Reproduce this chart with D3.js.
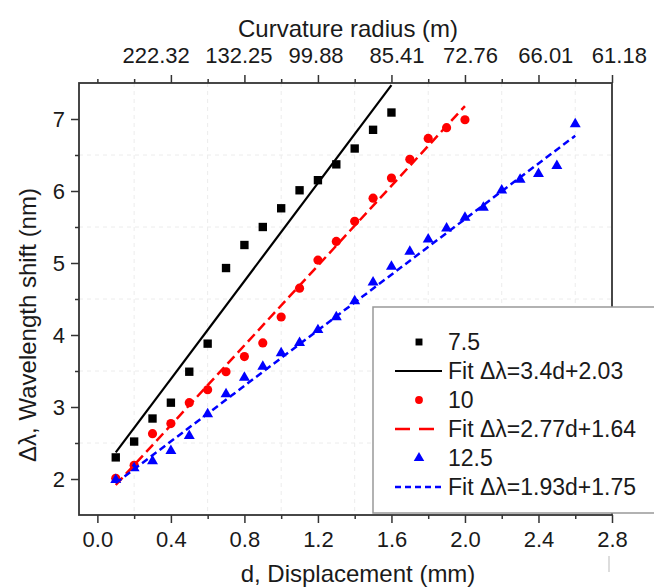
<!DOCTYPE html>
<html>
<head>
<meta charset="utf-8">
<script src="https://cdn.jsdelivr.net/npm/d3@7"></script>
<style>
  body { margin: 0; background: #fff; }
  text { font-family: "Liberation Sans", Arial, sans-serif; fill: #1a1a1a; }
</style>
</head>
<body>
<div id="chart"></div>
<script>
// data
var dBlack = [0.1, 0.2, 0.3, 0.4, 0.5, 0.6, 0.7, 0.8, 0.9, 1.0, 1.1, 1.2, 1.3, 1.4, 1.5, 1.6];
var shiftBlack = [2.30, 2.52, 2.84, 3.06, 3.49, 3.88, 4.93, 5.25, 5.50, 5.76, 6.01, 6.15, 6.37, 6.59, 6.85, 7.09];

var dRed = [0.1, 0.2, 0.3, 0.4, 0.5, 0.6, 0.7, 0.8, 0.9, 1.0, 1.1, 1.2, 1.3, 1.4, 1.5, 1.6, 1.7, 1.8, 1.9, 2.0];
var shiftRed = [2.01, 2.19, 2.63, 2.77, 3.06, 3.24, 3.49, 3.70, 3.89, 4.25, 4.65, 5.04, 5.30, 5.58, 5.90, 6.18, 6.44, 6.73, 6.88, 6.99];

var dBlue = [0.1, 0.2, 0.3, 0.4, 0.5, 0.6, 0.7, 0.8, 0.9, 1.0, 1.1, 1.2, 1.3, 1.4, 1.5, 1.6, 1.7, 1.8, 1.9, 2.0, 2.1, 2.2, 2.3, 2.4, 2.5, 2.6];
var shiftBlue = [1.99, 2.15, 2.25, 2.39, 2.60, 2.90, 3.18, 3.41, 3.56, 3.75, 3.89, 4.07, 4.25, 4.47, 4.73, 4.95, 5.16, 5.33, 5.48, 5.63, 5.77, 6.01, 6.16, 6.24, 6.35, 6.93];

// linear fits given in the legend
var seriesNames = ["7.5", "10", "12.5"];
var fitSlopes = [3.4, 2.77, 1.93];
var fitIntercepts = [2.03, 1.64, 1.75];
var fitLabels = ["Fit \u0394\u03bb=3.4d+2.03", "Fit \u0394\u03bb=2.77d+1.64", "Fit \u0394\u03bb=1.93d+1.75"];

// axis ticks
var xTicks = [0.0, 0.4, 0.8, 1.2, 1.6, 2.0, 2.4, 2.8];
var yTicks = [2, 3, 4, 5, 6, 7];
var topTicks = [0.4, 0.8, 1.2, 1.6, 2.0, 2.4, 2.8];
// top labels sit a little off their ticks in the original
var topLabelPos = [0.32, 0.77, 1.19, 1.63, 2.03, 2.44, 2.84];
var topLabels = ["222.32", "132.25", "99.88", "85.41", "72.76", "66.01", "61.18"];

var svgWidth = 654;
var svgHeight = 588;

var margin = { top: 83, right: 42, bottom: 73, left: 79 };
var width = svgWidth - margin.left - margin.right;
var height = svgHeight - margin.top - margin.bottom;

var svg = d3.select("#chart")
  .append("svg")
  .attr("width", svgWidth)
  .attr("height", svgHeight);

var chartGroup = svg.append("g")
  .attr("transform", `translate(${margin.left}, ${margin.top})`);

var xScale = d3.scaleLinear().domain([-0.1, 2.8]).range([0, width]);
var yScale = d3.scaleLinear().domain([1.5, 7.5]).range([height, 0]);

// faint dashed grid at the minor positions
var xGrid = d3.range(0.2, 2.7, 0.4);
var yGrid = d3.range(2.5, 7.0, 1);

chartGroup.selectAll(".xgrid")
  .data(xGrid)
  .enter()
  .append("line")
  .attr("x1", d => xScale(d))
  .attr("x2", d => xScale(d))
  .attr("y1", 0)
  .attr("y2", height)
  .attr("stroke", "#ececec")
  .attr("stroke-width", 1)
  .attr("stroke-dasharray", "4,4");

chartGroup.selectAll(".ygrid")
  .data(yGrid)
  .enter()
  .append("line")
  .attr("x1", 0)
  .attr("x2", width)
  .attr("y1", d => yScale(d))
  .attr("y2", d => yScale(d))
  .attr("stroke", "#ececec")
  .attr("stroke-width", 1)
  .attr("stroke-dasharray", "4,4");

// axes
var bottomAxis = d3.axisBottom(xScale)
  .tickValues(xTicks)
  .tickSize(8)
  .tickPadding(8)
  .tickFormat(d3.format(".1f"));

var bottomMinor = d3.axisBottom(xScale)
  .tickValues(d3.range(0.2, 2.7, 0.4))
  .tickSize(4)
  .tickFormat("");

var topAxis = d3.axisTop(xScale)
  .tickValues(topTicks)
  .tickSize(8)
  .tickFormat("");

var topMinor = d3.axisTop(xScale)
  .tickValues([0.0].concat(d3.range(0.2, 2.7, 0.4)))
  .tickSize(4)
  .tickFormat("");

var leftAxis = d3.axisLeft(yScale)
  .tickValues(yTicks)
  .tickSize(8)
  .tickPadding(6)
  .tickFormat(d3.format("d"));

var leftMinor = d3.axisLeft(yScale)
  .tickValues(d3.range(2.5, 7.0, 1))
  .tickSize(4)
  .tickFormat("");

function styleAxis(g) {
  g.select(".domain").remove();
  g.selectAll("line").attr("stroke", "#333").attr("stroke-width", 1.5);
  g.selectAll("text").attr("font-size", "22px").attr("fill", "#1a1a1a")
    .attr("font-family", "Liberation Sans, Arial, sans-serif");
}

chartGroup.append("g").attr("transform", `translate(0, ${height})`).call(bottomAxis).call(styleAxis);
chartGroup.append("g").attr("transform", `translate(0, ${height})`).call(bottomMinor).call(styleAxis);
chartGroup.append("g").call(topAxis).call(styleAxis);
chartGroup.append("g").call(topMinor).call(styleAxis);
chartGroup.append("g").call(leftAxis).call(styleAxis);
chartGroup.append("g").call(leftMinor).call(styleAxis);

// top (curvature radius) labels
chartGroup.selectAll(".toplabel")
  .data(topLabels)
  .enter()
  .append("text")
  .attr("x", (d, i) => xScale(topLabelPos[i]))
  .attr("y", -20)
  .attr("text-anchor", "middle")
  .attr("font-size", "22px")
  .text(d => d);

// frame
chartGroup.append("rect")
  .attr("x", 0)
  .attr("y", 0)
  .attr("width", width)
  .attr("height", height)
  .attr("fill", "none")
  .attr("stroke", "#333")
  .attr("stroke-width", 1.8);

// fit lines
var fitColors = ["#000", "#ff0000", "#0000ff"];
var fitDash = [null, "10,5", "7,4"];
var fitWidths = [2.2, 2.5, 2.5];
var fitRanges = [[0.1, 1.6], [0.1, 2.0], [0.1, 2.6]];

var line = d3.line()
  .x(d => xScale(d[0]))
  .y(d => yScale(d[1]));

// markers
var symbols = [d3.symbolSquare, d3.symbolCircle, d3.symbolTriangle];
var symbolSizes = [70, 66, 52];
var allD = [dBlack, dRed, dBlue];
var allShift = [shiftBlack, shiftRed, shiftBlue];

allD.forEach(function(dVals, i) {
  chartGroup.selectAll(".pt" + i)
    .data(dVals)
    .enter()
    .append("path")
    .attr("d", d3.symbol().type(symbols[i]).size(symbolSizes[i]))
    .attr("transform", (d, j) => `translate(${xScale(d)}, ${yScale(allShift[i][j])})`)
    .attr("fill", fitColors[i]);
});

fitSlopes.forEach(function(m, i) {
  var pts = fitRanges[i].map(d => [d, m * d + fitIntercepts[i]]);
  chartGroup.append("path")
    .datum(pts)
    .attr("d", line)
    .attr("fill", "none")
    .attr("stroke", fitColors[i])
    .attr("stroke-width", fitWidths[i])
    .attr("stroke-dasharray", fitDash[i]);
});

// axis titles
svg.append("text")
  .attr("x", 348)
  .attr("y", 37)
  .attr("text-anchor", "middle")
  .attr("font-size", "24px")
  .text("Curvature radius (m)");

svg.append("text")
  .attr("x", 358)
  .attr("y", 582)
  .attr("text-anchor", "middle")
  .attr("font-size", "24px")
  .text("d, Displacement (mm)");

svg.append("text")
  .attr("transform", "translate(36, 325) rotate(-90)")
  .attr("text-anchor", "middle")
  .attr("font-size", "24px")
  .text("\u0394\u03bb, Wavelength shift (nm)");

// legend
var legend = svg.append("g").attr("transform", "translate(373, 307)");

legend.append("rect")
  .attr("x", 0)
  .attr("y", 0)
  .attr("width", 300)
  .attr("height", 206)
  .attr("fill", "#fff")
  .attr("stroke", "#999")
  .attr("stroke-width", 1.5);

var rowGap = 29;
seriesNames.forEach(function(name, i) {
  var yMark = 35 + i * 2 * rowGap;
  var yFit = yMark + rowGap;

  legend.append("path")
    .attr("d", d3.symbol().type(symbols[i]).size(48))
    .attr("transform", `translate(46, ${yMark})`)
    .attr("fill", fitColors[i]);

  legend.append("text")
    .attr("x", 75)
    .attr("y", yMark + 8)
    .attr("font-size", "23px")
    .text(name);

  legend.append("line")
    .attr("x1", 22)
    .attr("x2", 69)
    .attr("y1", yFit)
    .attr("y2", yFit)
    .attr("stroke", fitColors[i])
    .attr("stroke-width", fitWidths[i])
    .attr("stroke-dasharray", i === 1 ? "15,9" : (i === 2 ? "6,4" : null));

  legend.append("text")
    .attr("x", 75)
    .attr("y", yFit + 8)
    .attr("font-size", "23px")
    .text(fitLabels[i]);
});

// small stray mark under the last tick label
svg.append("line")
  .attr("x1", 609)
  .attr("x2", 609)
  .attr("y1", 556)
  .attr("y2", 572)
  .attr("stroke", "#bbb")
  .attr("stroke-width", 1);
</script>
</body>
</html>
